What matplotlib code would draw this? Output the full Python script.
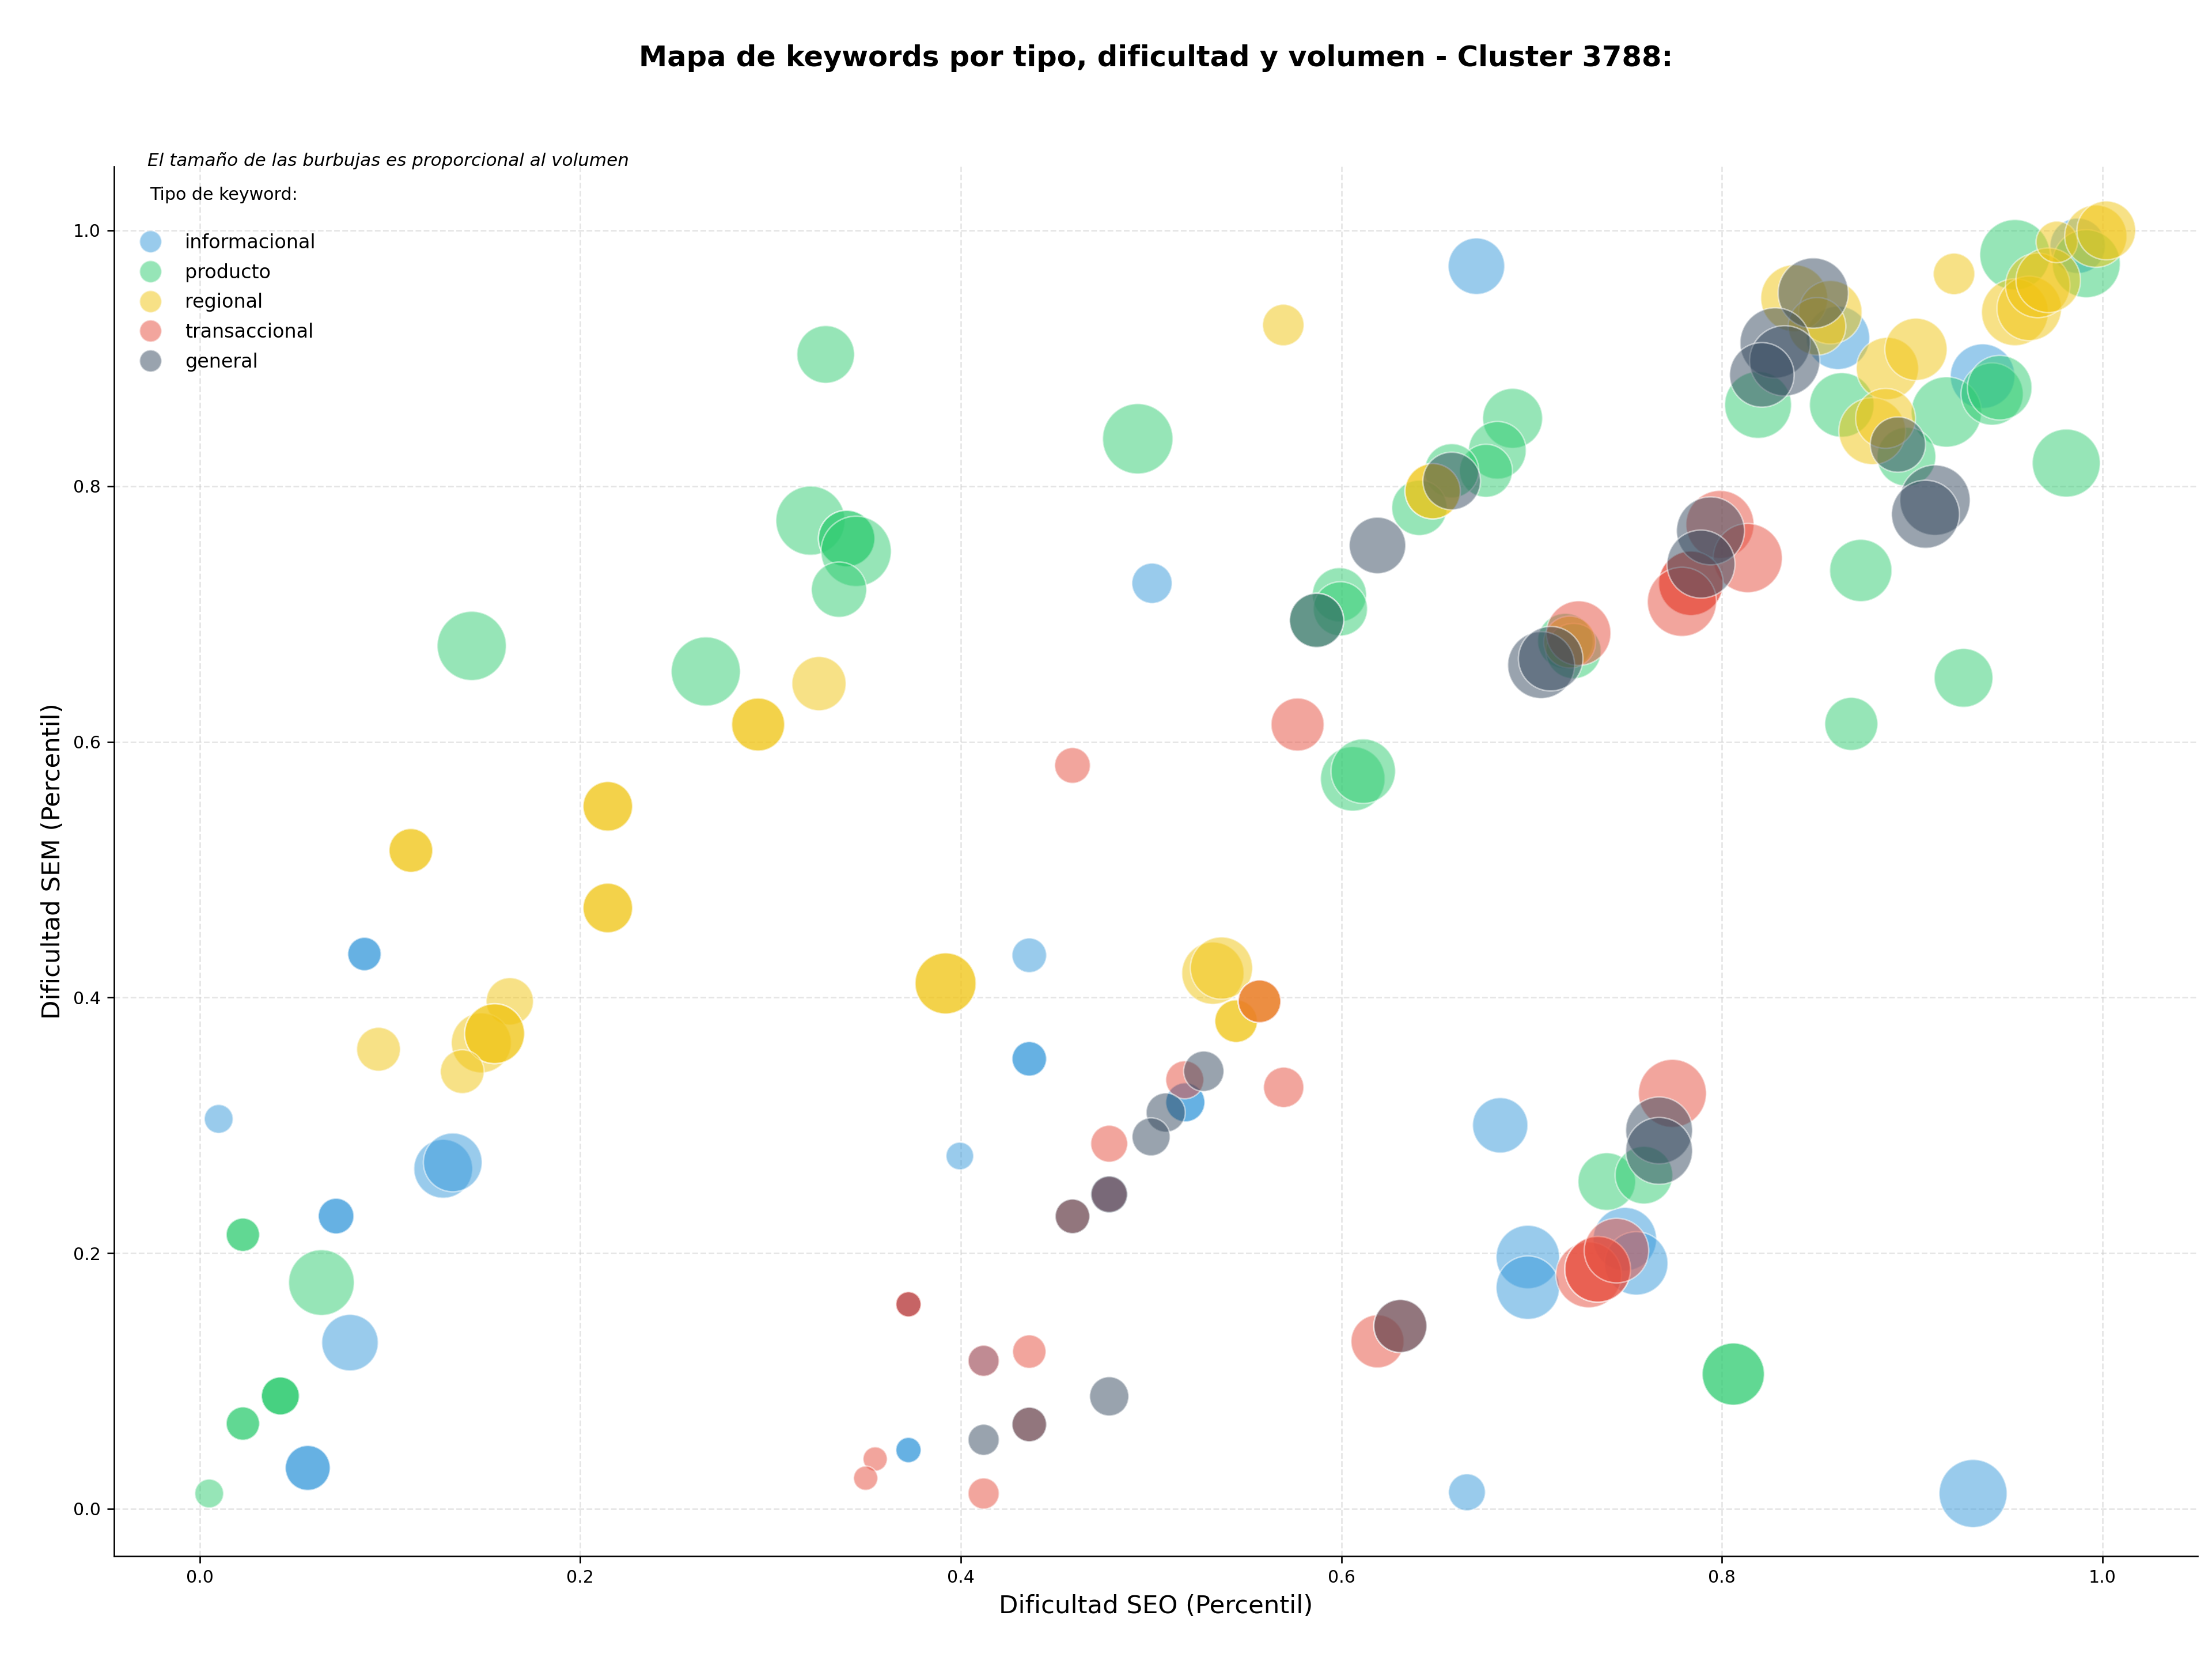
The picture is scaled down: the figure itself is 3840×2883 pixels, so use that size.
import matplotlib
matplotlib.use("Agg")
import matplotlib.pyplot as plt
from matplotlib.lines import Line2D
import numpy as np

# ---------------- data ----------------
categorias = ["informacional", "producto", "regional", "transaccional", "general"]
colores = {"informacional": "#3498db", "producto": "#2ecc71", "regional": "#f1c40f",
           "transaccional": "#e74c3c", "general": "#34495e"}

info_seo = [0.671, 0.5005, 0.010, 0.0866, 0.0866, 0.0717, 0.0717, 0.0568, 0.0568, 0.079,
            0.128, 0.133, 0.436, 0.436, 0.436, 0.3995, 0.3725, 0.3725, 0.518, 0.518,
            0.6835, 0.698, 0.698, 0.749, 0.755, 0.932, 0.666, 0.861, 0.937, 0.987,
            0.412, 0.3725, 0.3725, 0.478]
info_sem = [0.972, 0.724, 0.305, 0.434, 0.434, 0.229, 0.229, 0.032, 0.032, 0.130,
            0.266, 0.271, 0.433, 0.352, 0.352, 0.276, 0.046, 0.046, 0.318, 0.318,
            0.300, 0.197, 0.173, 0.211, 0.192, 0.012, 0.013, 0.916, 0.886, 0.988,
            0.1158, 0.160, 0.160, 0.246]
info_vol = [864, 441, 225, 303, 303, 346, 346, 548, 548, 864,
            936, 936, 324, 324, 324, 207, 174, 174, 416, 416,
            829, 1089, 1089, 1089, 1089, 1253, 369, 1089, 1129, 829,
            262, 174, 174, 346]

prod_seo = [0.329, 0.493, 0.321, 0.340, 0.340, 0.345, 0.336, 0.143, 0.266, 0.690,
            0.682, 0.676, 0.658, 0.641, 0.599, 0.5995, 0.587, 0.606, 0.6115, 0.873,
            0.927, 0.868, 0.981, 0.819, 0.863, 0.918, 0.897, 0.942, 0.946, 0.954,
            0.9915, 0.7395, 0.759, 0.806, 0.806, 0.005, 0.0227, 0.0227, 0.0227, 0.0227,
            0.0424, 0.0424, 0.0424, 0.064, 0.7177, 0.722]
prod_sem = [0.903, 0.837, 0.773, 0.759, 0.759, 0.749, 0.719, 0.675, 0.655, 0.853,
            0.828, 0.812, 0.812, 0.783, 0.715, 0.704, 0.695, 0.571, 0.577, 0.734,
            0.650, 0.614, 0.818, 0.8635, 0.8635, 0.858, 0.823, 0.872, 0.877, 0.981,
            0.974, 0.256, 0.261, 0.1054, 0.1054, 0.012, 0.2144, 0.2144, 0.0667, 0.0667,
            0.0883, 0.0883, 0.0883, 0.177, 0.6788, 0.671]
prod_vol = [900, 1340, 1296, 864, 864, 1340, 829, 1296, 1296, 973,
            900, 762, 795, 829, 795, 795, 795, 1129, 1129, 1050,
            936, 762, 1253, 1211, 1129, 1340, 936, 1050, 1129, 1340,
            1253, 900, 900, 1050, 1050, 225, 303, 303, 303, 303,
            392, 392, 392, 1170, 829, 829]

reg_seo = [0.5695, 0.3255, 0.2935, 0.2935, 0.2145, 0.2145, 0.111, 0.111, 0.2145, 0.2145,
           0.163, 0.148, 0.155, 0.155, 0.138, 0.094, 0.392, 0.392, 0.5325, 0.537,
           0.5447, 0.5447, 0.557, 0.557, 0.648, 0.648, 0.838, 0.857, 0.850, 0.887,
           0.902, 0.879, 0.886, 0.922, 0.954, 0.9615, 0.966, 0.9715, 0.976, 0.9965,
           1.002, 0.720]
reg_sem = [0.926, 0.6455, 0.6135, 0.6135, 0.5495, 0.5495, 0.515, 0.515, 0.470, 0.470,
           0.397, 0.3645, 0.3717, 0.3717, 0.342, 0.3595, 0.411, 0.411, 0.419, 0.423,
           0.3815, 0.3815, 0.397, 0.397, 0.796, 0.796, 0.947, 0.936, 0.925, 0.892,
           0.907, 0.843, 0.853, 0.966, 0.936, 0.939, 0.957, 0.961, 0.991, 0.9955,
           1.000, 0.678]
reg_vol = [467, 795, 762, 762, 666, 666, 520, 520, 666, 666,
           605, 973, 973, 973, 520, 520, 1011, 1011, 1050, 1050,
           493, 493, 493, 493, 829, 829, 1211, 1089, 900, 1050,
           1050, 1211, 973, 467, 1211, 1129, 1129, 1129, 467, 1050,
           936, 729]

trans_seo = [0.4587, 0.577, 0.5697, 0.5177, 0.478, 0.478, 0.4587, 0.3725, 0.3725, 0.412,
             0.436, 0.436, 0.355, 0.350, 0.412, 0.557, 0.619, 0.631, 0.774, 0.730,
             0.7347, 0.7347, 0.7446, 0.799, 0.8136, 0.7837, 0.7837, 0.779, 0.7247]
trans_sem = [0.5815, 0.6135, 0.3297, 0.3356, 0.2856, 0.246, 0.2288, 0.160, 0.160, 0.1158,
             0.123, 0.066, 0.039, 0.024, 0.012, 0.397, 0.131, 0.143, 0.325, 0.183,
             0.1874, 0.1874, 0.202, 0.770, 0.7437, 0.724, 0.724, 0.7095, 0.685]
trans_vol = [346, 762, 441, 392, 369, 346, 324, 174, 174, 262,
             303, 324, 159, 159, 262, 493, 762, 762, 1253, 1170,
             1170, 1170, 1129, 1253, 1296, 1129, 1129, 1296, 1129]

gen_seo = [0.619, 0.658, 0.587, 0.848, 0.828, 0.833, 0.821, 0.8925, 0.912, 0.907,
           0.794, 0.789, 0.705, 0.710, 0.5277, 0.5077, 0.500, 0.478, 0.4587, 0.478,
           0.436, 0.412, 0.631, 0.767, 0.767]
gen_sem = [0.7536, 0.804, 0.695, 0.951, 0.912, 0.898, 0.887, 0.8325, 0.789, 0.778,
           0.765, 0.739, 0.660, 0.665, 0.3423, 0.310, 0.291, 0.246, 0.2288, 0.088,
           0.066, 0.054, 0.143, 0.296, 0.280]
gen_vol = [864, 900, 795, 1340, 1340, 1340, 1129, 829, 1340, 1253,
           1253, 1253, 1211, 1129, 441, 416, 392, 369, 324, 416,
           324, 262, 762, 1211, 1211]

datos = {
    "informacional": (info_seo, info_sem, info_vol),
    "producto": (prod_seo, prod_sem, prod_vol),
    "regional": (reg_seo, reg_sem, reg_vol),
    "transaccional": (trans_seo, trans_sem, trans_vol),
    "general": (gen_seo, gen_sem, gen_vol),
}

# ---------------- figure ----------------
fig = plt.figure(figsize=(16, 2883 / 240), dpi=240)
ax = fig.add_axes([0.05156, 0.06313, 0.94193, 0.83663])

for cat in categorias:
    xs, ys, vs = datos[cat]
    ax.scatter(xs, ys, s=np.array(vs, dtype=float), c=colores[cat], alpha=0.5,
               edgecolors="white", linewidths=0.8, label=cat, zorder=3)

ax.set_xlim(-0.045, 1.05)
ax.set_ylim(-0.037, 1.05)
ax.grid(True, linestyle="--", color="#cccccc", alpha=0.5, linewidth=0.8)
ax.set_axisbelow(True)
for sp in ["top", "right"]:
    ax.spines[sp].set_visible(False)

ax.set_xlabel("Dificultad SEO (Percentil)", fontsize=13)
ax.set_ylabel("Dificultad SEM (Percentil)", fontsize=13)
ax.tick_params(labelsize=9)

ax.text(0.5, 1.0, "Mapa de keywords por tipo, dificultad y volumen - Cluster 3788:",
        transform=ax.transAxes, ha="center", va="center", fontsize=14.85,
        fontweight="bold")
# move title into figure position above axes
ax.texts[-1].set_transform(matplotlib.transforms.blended_transform_factory(ax.transAxes, fig.transFigure))
ax.texts[-1].set_position((0.5, 0.965))

ax.text(0.016, 1.004, "El tamaño de las burbujas es proporcional al volumen",
        transform=ax.transAxes, fontsize=9.3, fontstyle="italic", va="center", ha="left")

handles = [Line2D([], [], marker="o", linestyle="", markersize=11.5,
                  markerfacecolor=colores[c], markeredgecolor="white",
                  markeredgewidth=0.8, alpha=0.5) for c in categorias]
leg = ax.legend(handles, categorias, title="Tipo de keyword:\n", loc="upper left",
                bbox_to_anchor=(0.0, 0.998), frameon=False, fontsize=10,
                title_fontsize=9, labelspacing=0.56)

fig.savefig("out.png", dpi=240)
